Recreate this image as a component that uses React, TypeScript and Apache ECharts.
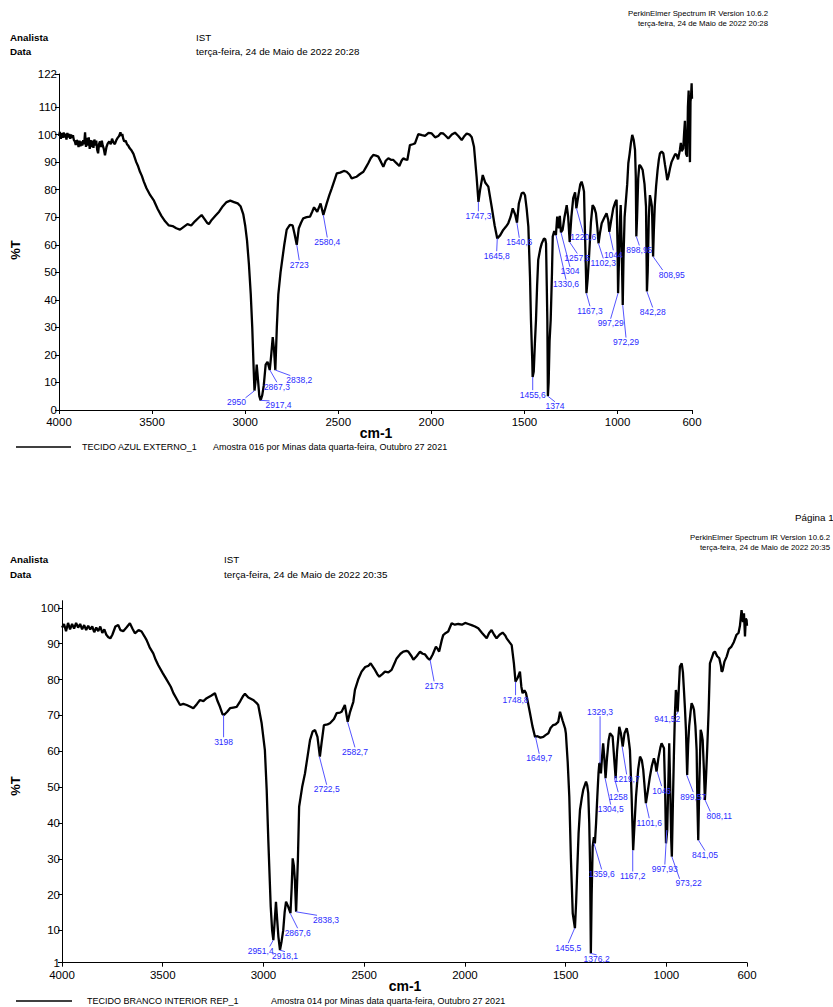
import React, { useEffect, useRef } from "react";
import * as echarts from "echarts";

const FONT = '"Liberation Sans", Arial, sans-serif';

const xTicks = [4000, 3500, 3000, 2500, 2000, 1500, 1000, 600];
const topYTicks = [0, 10, 20, 30, 40, 50, 60, 70, 80, 90, 100, 110, 122];
const bottomYTicks = [1, 10, 20, 30, 40, 50, 60, 70, 80, 90, 100, 102];

const topSpectrum: [number, number][] = [
  [4000, 99.5], [3995, 101], [3990, 98.5], [3985, 100.5], [3980, 98.8], [3975, 100.8], [3970, 99], [3965, 100.3],
  [3960, 98.2], [3955, 100.6], [3950, 99], [3945, 100.2], [3940, 98.5], [3935, 100], [3930, 98.8], [3925, 99.8],
  [3920, 98], [3915, 97.5], [3910, 96.2], [3905, 98], [3900, 97.5], [3895, 95.5], [3890, 97.8], [3885, 95.8],
  [3880, 97.5], [3875, 96], [3870, 98], [3865, 96.5], [3860, 100.8], [3855, 95.5], [3850, 98.8], [3845, 96],
  [3840, 99], [3835, 94.8], [3830, 98], [3825, 95.5], [3820, 97.8], [3815, 95.2], [3810, 98.2], [3805, 96],
  [3800, 97.8], [3795, 94.5], [3790, 93.2], [3785, 96.5], [3780, 97.5], [3775, 95.5], [3770, 97.8], [3765, 96],
  [3760, 95], [3753, 92.5], [3745, 95.5], [3738, 96.8], [3730, 97.5], [3722, 96.5], [3715, 98.5], [3708, 97.2],
  [3700, 96.5], [3692, 98], [3685, 98.8], [3677, 99.5], [3670, 100.8], [3665, 99.5], [3660, 100.2], [3655, 98.5],
  [3650, 97.5], [3642, 97.8], [3635, 96.5], [3628, 96], [3620, 95], [3610, 94.2], [3600, 93], [3585, 90],
  [3575, 88.5], [3565, 86.5], [3555, 85], [3545, 83], [3530, 80.5], [3510, 78], [3490, 76], [3470, 73],
  [3450, 70.5], [3430, 68.5], [3410, 67], [3390, 66.8], [3370, 66], [3350, 65.5], [3330, 66.5], [3310, 67.5],
  [3290, 67], [3270, 68.5], [3250, 69.8], [3234, 70.8], [3220, 69.5], [3205, 68], [3195, 67.5], [3180, 69],
  [3160, 70.5], [3140, 72], [3120, 74], [3100, 75.5], [3080, 76], [3060, 75.5], [3040, 75], [3025, 74],
  [3010, 71], [3000, 67], [2990, 61.5], [2980, 53], [2970, 42], [2962, 30], [2955, 16], [2950, 7],
  [2945, 10], [2938, 16.5], [2930, 10], [2924, 5], [2917, 3.5], [2908, 5.5], [2900, 9], [2890, 16.5],
  [2880, 17.5], [2868, 14.5], [2860, 20], [2852, 26.5], [2845, 22], [2838, 14.5], [2830, 30], [2822, 42],
  [2810, 50], [2800, 55], [2790, 60], [2777, 65.5], [2760, 67.2], [2745, 67], [2735, 64], [2723, 60],
  [2712, 66], [2700, 68], [2688, 69.6], [2670, 70], [2652, 70.2], [2640, 72], [2630, 73.6], [2613, 72],
  [2595, 75], [2580, 70.8], [2562, 75], [2548, 78], [2535, 80.5], [2520, 83.5], [2508, 85.9], [2490, 86.2],
  [2470, 86.8], [2455, 86.5], [2440, 85.5], [2428, 84.1], [2410, 84.5], [2401, 84.7], [2385, 85.6], [2365, 86.5],
  [2350, 88.3], [2339, 89.6], [2325, 91.5], [2312, 92.6], [2298, 92.4], [2285, 92], [2270, 90], [2258, 88.3],
  [2245, 90.5], [2231, 91.4], [2215, 90.8], [2204, 90.8], [2190, 89.8], [2172, 88.6], [2160, 90.5], [2151, 91.4],
  [2140, 91], [2129, 90.8], [2115, 96.2], [2100, 96.5], [2088, 96.8], [2070, 100.2], [2050, 99.8], [2034, 99.5],
  [2015, 100.6], [1998, 100.4], [1980, 99], [1963, 99.5], [1950, 100.5], [1936, 100.4], [1922, 99.5], [1909, 98.6],
  [1890, 100], [1873, 100.7], [1855, 99.5], [1837, 98], [1822, 99.5], [1810, 100.4], [1795, 100], [1783, 99],
  [1771, 95.6], [1757, 84.7], [1747, 75.6], [1738, 80], [1724, 85.3], [1710, 82.5], [1694, 81.1], [1676, 73.8],
  [1660, 67], [1646, 62.3], [1630, 63.5], [1614, 65.4], [1600, 66.5], [1587, 67.8], [1575, 70], [1563, 73.2],
  [1550, 71], [1540, 68], [1530, 75], [1515, 78.7], [1505, 79], [1497, 78], [1488, 73], [1479, 66.6],
  [1470, 48], [1465, 32.7], [1458, 18], [1456, 12], [1450, 14], [1444, 24], [1438, 32.7], [1432, 45],
  [1426, 54.5], [1415, 58.5], [1407, 60.5], [1395, 62.3], [1388, 62], [1384, 60.5], [1380, 45], [1377, 32.7],
  [1374, 5], [1370, 10], [1365, 25], [1359, 32.7], [1352, 50], [1348, 63], [1340, 65], [1331, 63.5],
  [1324, 70.2], [1315, 66], [1310, 70.5], [1304, 64.5], [1295, 65.4], [1285, 70], [1273, 74.4], [1265, 70],
  [1257, 61], [1248, 70], [1238, 76.9], [1228, 79], [1221, 73.2], [1210, 78], [1200, 82], [1193, 82.9],
  [1185, 81], [1180, 79.3], [1175, 65], [1167, 42.4], [1160, 48], [1152, 56.9], [1143, 68], [1134, 74.4],
  [1125, 73.5], [1116, 71.4], [1108, 66], [1102, 60.5], [1095, 64], [1085, 67.8], [1070, 70], [1059, 71.4],
  [1050, 69], [1044, 64.7], [1035, 68.5], [1023, 73.2], [1012, 75.5], [1005, 76.3], [1000, 60], [997, 42.4],
  [992, 55], [986, 70], [983, 74.4], [978, 60], [972, 38.1], [968, 55], [962, 70], [955, 76],
  [948, 82], [942, 89.6], [935, 93], [928, 97], [921, 99.9], [913, 98], [906, 94.4], [902, 85],
  [899, 63], [895, 70], [889, 84], [883, 89], [875, 88.5], [865, 87.1], [855, 82], [847, 73.8],
  [844, 55], [842, 43], [838, 50], [832, 70], [826, 78], [820, 76], [815, 73.8], [811, 62],
  [809, 55.7], [805, 65], [800, 74], [793, 81.1], [785, 87], [778, 91], [772, 93.2], [763, 93.8],
  [754, 93.2], [745, 89], [738, 86], [733, 83.5], [727, 84.7], [718, 87.8], [710, 90], [700, 91.5],
  [690, 93], [682, 92.6], [675, 91], [665, 94.4], [660, 97], [655, 94], [647, 95], [642, 101],
  [638, 105], [632, 93], [626, 92], [622, 110], [618, 116], [614, 105], [611, 90], [608, 112],
  [605, 114], [602, 118.6], [600, 113],
];

const bottomSpectrum: [number, number][] = [
  [4000, 94.5], [3990, 95.5], [3980, 93.5], [3970, 95.8], [3960, 94], [3950, 95.5], [3940, 94.2], [3930, 95.8],
  [3920, 94.5], [3910, 95.5], [3900, 94], [3890, 95.2], [3880, 93.8], [3870, 95], [3860, 94], [3850, 94.8],
  [3840, 93.2], [3830, 94.5], [3820, 93.5], [3810, 94.8], [3800, 93], [3790, 94], [3780, 92.5], [3770, 91.8],
  [3760, 91.5], [3750, 92.5], [3735, 94.8], [3721, 95.2], [3710, 93.8], [3696, 93.5], [3680, 94.5], [3663, 95.7],
  [3650, 94.2], [3638, 92.9], [3620, 93.8], [3605, 93.4], [3590, 92], [3580, 91], [3565, 89], [3547, 87.3],
  [3535, 85.5], [3522, 84], [3500, 81.8], [3480, 79.9], [3460, 78], [3447, 76.2], [3430, 74.5], [3414, 72.9],
  [3398, 73.2], [3381, 72.9], [3365, 72.5], [3348, 72], [3330, 73.2], [3315, 74.3], [3298, 74], [3282, 74.8],
  [3260, 75.5], [3241, 76.2], [3228, 74], [3216, 72.4], [3203, 70.3], [3196, 70.1], [3180, 71], [3166, 72],
  [3150, 72.2], [3133, 72.4], [3115, 74], [3100, 75.5], [3092, 76], [3075, 75], [3051, 74.3], [3035, 73.5],
  [3026, 72.9], [3009, 67.8], [2993, 60.3], [2984, 49.2], [2976, 35.2], [2964, 16.6], [2957, 10], [2951, 7.3],
  [2945, 12], [2938, 18], [2932, 13], [2926, 8.3], [2918, 4.5], [2910, 7], [2902, 10], [2895, 15],
  [2888, 18], [2877, 16.6], [2866, 14.8], [2860, 22], [2855, 30.1], [2849, 28], [2844, 24], [2838, 15.2],
  [2829, 30], [2823, 44.5], [2808, 50], [2794, 53.8], [2780, 59], [2769, 63.1], [2756, 65.5], [2744, 65.9],
  [2732, 64], [2720, 58.5], [2710, 63], [2700, 67.3], [2682, 67.5], [2670, 67.8], [2650, 69], [2637, 70.6],
  [2620, 70.8], [2612, 71], [2596, 72.9], [2582, 68.2], [2570, 71], [2554, 73.8], [2546, 77.1], [2530, 80],
  [2513, 82.2], [2495, 83.5], [2480, 83.8], [2468, 84.5], [2450, 83], [2435, 81.5], [2425, 80.8], [2410, 81.5],
  [2397, 82.2], [2380, 82], [2364, 82.7], [2350, 84.5], [2339, 85.9], [2320, 87.2], [2306, 87.8], [2290, 88],
  [2281, 87.8], [2265, 86.5], [2256, 85.5], [2240, 86.5], [2223, 87.8], [2210, 87.2], [2198, 87], [2185, 86],
  [2174, 85.5], [2160, 87], [2144, 89.2], [2135, 88.5], [2128, 87.8], [2115, 91], [2108, 92.4], [2095, 93],
  [2083, 93.4], [2066, 95.7], [2050, 95.3], [2033, 95.5], [2015, 95.3], [1999, 95.8], [1983, 95.5], [1967, 95.2],
  [1950, 94.8], [1934, 94.3], [1915, 93], [1892, 91.5], [1880, 93], [1868, 93.8], [1855, 92.5], [1843, 91.5],
  [1828, 92.5], [1813, 93.1], [1800, 92.3], [1793, 91.5], [1780, 90.5], [1768, 89.6], [1757, 84.5], [1749, 79.4],
  [1738, 80.5], [1727, 82.2], [1720, 78], [1714, 76.2], [1705, 77], [1697, 76.2], [1687, 73.5], [1677, 70.6],
  [1665, 67], [1652, 64], [1640, 64.2], [1625, 63.8], [1611, 64], [1600, 64.5], [1586, 65], [1575, 66.5],
  [1562, 67.3], [1550, 67.5], [1537, 68.2], [1528, 71], [1515, 68.5], [1503, 66.4], [1499, 65], [1490, 57],
  [1482, 47.3], [1474, 30], [1465, 14.8], [1454, 10.6], [1448, 18], [1442, 27.8], [1436, 37], [1429, 43.6],
  [1420, 47], [1413, 49.2], [1399, 51.5], [1393, 50.5], [1388, 48.3], [1383, 40], [1379, 28.7], [1375, 3.6],
  [1371, 20], [1366, 33.4], [1360, 36], [1355, 34.3], [1349, 40], [1343, 47.3], [1337, 54], [1333, 56.6],
  [1329, 56.5], [1325, 53.8], [1320, 58], [1314, 62.2], [1308, 58], [1302, 52.5], [1295, 58], [1287, 63],
  [1280, 65], [1267, 64.1], [1258, 57], [1252, 52.5], [1245, 60], [1234, 66.8], [1226, 65], [1217, 61.3],
  [1208, 65], [1197, 66.4], [1190, 64.5], [1181, 60.3], [1173, 48], [1165, 32.4], [1158, 40], [1151, 47.3],
  [1140, 55], [1131, 58.5], [1122, 57.5], [1115, 54.8], [1108, 50], [1102, 45.5], [1092, 49], [1082, 52.9],
  [1072, 56], [1062, 58], [1055, 56.5], [1049, 54.3], [1040, 58], [1030, 61], [1024, 62.2], [1018, 61.5],
  [1012, 60.8], [1006, 48], [1002, 34.3], [996, 38], [991, 50], [986, 62.2], [980, 47], [976, 35],
  [973, 30.6], [968, 45], [963, 58.5], [958, 70], [953, 77.1], [948, 75], [944, 71], [938, 78],
  [933, 83.6], [924, 84.5], [918, 82], [913, 77.1], [908, 72], [903, 65.9], [897, 53.4], [892, 62],
  [887, 67], [880, 71], [875, 73.4], [868, 72.5], [863, 71.5], [856, 67], [850, 60.3], [846, 45],
  [842, 35.2], [837, 50], [830, 66], [825, 65], [820, 63.1], [814, 55], [809, 46.4], [804, 52],
  [797, 61.3], [790, 72], [784, 84.5], [775, 86], [766, 87.5], [759, 87.8], [748, 86.5], [738, 86],
  [730, 84], [726, 82.2], [721, 82.5], [712, 85], [701, 86.4], [690, 88.5], [677, 89.2], [665, 90.5],
  [652, 92.5], [642, 93], [635, 95], [627, 99.4], [620, 96], [615, 98.5], [610, 92], [606, 97],
  [602, 96.6], [600, 95],
];

const topPeaks: [number, number, string][] = [
  [2950, 7, "2950"], [2917.4, 3.5, "2917,4"], [2867.3, 14.5, "2867,3"], [2838.2, 14.5, "2838,2"],
  [2723, 60, "2723"], [2580.4, 70.8, "2580,4"], [1747.3, 75.6, "1747,3"], [1645.8, 62.3, "1645,8"],
  [1540.6, 68, "1540,6"], [1455.6, 12, "1455,6"], [1374, 5, "1374"], [1330.6, 63.5, "1330,6"],
  [1304, 64.5, "1304"], [1257.5, 61, "1257,5"], [1220.6, 73.2, "1220,6"], [1167.3, 42.4, "1167,3"],
  [1102.3, 60.5, "1102,3"], [1044, 64.7, "1044"], [997.29, 42.4, "997,29"], [972.29, 38.1, "972,29"],
  [898.95, 63, "898,95"], [842.28, 43, "842,28"], [808.95, 55.7, "808,95"],
];
const topLabelOffsets: [number, number][] = [
  [-18, 11.6], [18, 5], [7, 16.7], [24, 10], [2.5, 20], [4, 27], [0, 14], [-0.6, 17.3],
  [2.4, 19.6], [0, 17.7], [7, 10], [10, 49], [9, 39], [7.7, 16], [6.8, 29], [3.6, 17.5],
  [4.8, 19.5], [4, 23], [-7.4, 30], [3.3, 37], [3, 13.5], [5.8, 20.4], [18.6, 18],
];

const bottomPeaks: [number, number, string][] = [
  [3198, 70.1, "3198"], [2951.4, 7.3, "2951,4"], [2918.1, 4.5, "2918,1"], [2867.6, 14.8, "2867,6"],
  [2838.3, 15.2, "2838,3"], [2722.5, 58.5, "2722,5"], [2582.7, 68.2, "2582,7"], [2173, 85.5, "2173"],
  [1748.8, 79.4, "1748,8"], [1649.7, 64, "1649,7"], [1455.5, 10.6, "1455,5"], [1376.2, 3.6, "1376,2"],
  [1359.6, 34.3, "1359,6"], [1329.3, 56.6, "1329,3"], [1304.5, 52.5, "1304,5"], [1258, 52.5, "1258"],
  [1219.7, 61.3, "1219,7"], [1167.2, 32.4, "1167,2"], [1101.6, 45.5, "1101,6"], [1046, 54.3, "1046"],
  [997.93, 38, "997,93"], [973.22, 30.6, "973,22"], [941.52, 71, "941,52"], [899.57, 53.4, "899,57"],
  [841.05, 35.2, "841,05"], [808.11, 46.4, "808,11"],
];
const bottomLabelOffsets: [number, number][] = [
  [0, 26.7], [-12.6, 11], [5, 6], [7.5, 19.5], [30, 8], [7.3, 32.7], [7.4, 30], [4, 26],
  [0, 18], [3.7, 21.4], [-6.4, 19.4], [6, 6], [7.7, 30.6], [0, -51.7], [5.6, 31], [3.8, 18.6],
  [4.5, 32.4], [0, 25.8], [3.3, 19.5], [4.5, 19], [-2, 39], [16.8, 26.7], [-11, 7.5], [6.6, 21.7],
  [6.5, 15], [14.2, 16],
];

function peakRenderer(peaks: [number, number, string][], offsets: [number, number][]) {
  return (params: any, api: any) => {
    const i = params.dataIndex;
    const p = api.coord([api.value(0), api.value(1)]);
    const [dx, dy] = offsets[i];
    const lx = p[0] + dx;
    const ly = p[1] + dy;
    const ex = Math.abs(dx) > 10 ? lx - Math.sign(dx) * 9 : lx;
    const ey = dy >= 0 ? ly - 4.5 : ly + 4.5;
    return {
      type: "group",
      children: [
        { type: "line", shape: { x1: p[0], y1: p[1], x2: ex, y2: ey }, style: { stroke: "#5555ff", lineWidth: 1 } },
        {
          type: "text",
          x: lx,
          y: ly,
          style: { text: peaks[i][2], font: `8.5px ${FONT}`, fill: "#2a2aff", textAlign: "center", textVerticalAlign: "middle" },
        },
      ],
    };
  };
}

function txt(x: number, y: number, text: string, size: number, opts: any = {}) {
  return {
    type: "text",
    x,
    y,
    rotation: opts.rotation || 0,
    style: {
      text,
      font: `${opts.bold ? "bold " : ""}${size}px ${FONT}`,
      fill: "#000",
      textAlign: opts.align || "left",
      textVerticalAlign: "middle",
    },
  };
}

const plain = (v: number) => String(v);

function xAxisCfg(gridIndex: number) {
  return {
    gridIndex,
    type: "value",
    min: 600,
    max: 4000,
    inverse: true,
    axisLine: { show: true, lineStyle: { color: "#000", width: 1 } },
    axisTick: { show: true, length: 4, customValues: xTicks, lineStyle: { color: "#000" } },
    axisLabel: { customValues: xTicks, formatter: plain, color: "#000", fontSize: 11.5, lineHeight: 12, fontFamily: FONT, margin: 6 },
    splitLine: { show: false },
  };
}

function yAxisCfg(gridIndex: number, min: number, max: number, ticks: number[]) {
  return {
    gridIndex,
    type: "value",
    min,
    max,
    axisLine: { show: true, lineStyle: { color: "#000", width: 1 } },
    axisTick: { show: true, length: 4, customValues: ticks, lineStyle: { color: "#000" } },
    axisLabel: { customValues: ticks, formatter: plain, color: "#000", fontSize: 11.5, lineHeight: 11, fontFamily: FONT, margin: 2 },
    splitLine: { show: false },
  };
}

export default function App() {
  const ref = useRef<HTMLDivElement>(null);
  useEffect(() => {
    if (!ref.current) return;
    const chart = echarts.init(ref.current, undefined, { renderer: "svg" });
    chart.setOption({
      animation: false,
      backgroundColor: "#fff",
      grid: [
        { left: 59, top: 74, width: 633, height: 336 },
        { left: 62, top: 600.7, width: 685, height: 362 },
      ],
      xAxis: [xAxisCfg(0), xAxisCfg(1)],
      yAxis: [yAxisCfg(0, 0, 122, topYTicks), yAxisCfg(1, 1, 102, bottomYTicks)],
      series: [
        {
          type: "line",
          xAxisIndex: 0,
          yAxisIndex: 0,
          data: topSpectrum,
          showSymbol: false,
          lineStyle: { color: "#000", width: 2.3 },
          z: 2,
        },
        {
          type: "line",
          xAxisIndex: 1,
          yAxisIndex: 1,
          data: bottomSpectrum,
          showSymbol: false,
          lineStyle: { color: "#000", width: 2.3 },
          z: 2,
        },
        {
          type: "custom",
          xAxisIndex: 0,
          yAxisIndex: 0,
          clip: false,
          data: topPeaks.map((p) => [p[0], p[1]]),
          encode: { x: 0, y: 1 },
          renderItem: peakRenderer(topPeaks, topLabelOffsets),
          z: 3,
        },
        {
          type: "custom",
          xAxisIndex: 1,
          yAxisIndex: 1,
          clip: false,
          data: bottomPeaks.map((p) => [p[0], p[1]]),
          encode: { x: 0, y: 1 },
          renderItem: peakRenderer(bottomPeaks, bottomLabelOffsets),
          z: 3,
        },
      ],
      graphic: [
        txt(768, 13, "PerkinElmer Spectrum IR Version 10.6.2", 7.8, { align: "right" }),
        txt(768, 23, "terça-feira, 24 de Maio de 2022 20:28", 7.8, { align: "right" }),
        txt(10, 37, "Analista", 9.8, { bold: true }),
        txt(196, 37, "IST", 9.8),
        txt(10, 51, "Data", 9.8, { bold: true }),
        txt(196, 51, "terça-feira, 24 de Maio de 2022 20:28", 9.8),
        txt(15, 250, "%T", 13, { bold: true, align: "center", rotation: Math.PI / 2 }),
        txt(376, 433, "cm-1", 14, { bold: true, align: "center" }),
        { type: "line", shape: { x1: 16, y1: 447, x2: 71, y2: 447 }, style: { stroke: "#000", lineWidth: 1.5 } },
        txt(82, 447, "TECIDO AZUL EXTERNO_1", 9),
        txt(213, 447, "Amostra 016 por Minas data quarta-feira, Outubro 27 2021", 9),

        txt(795, 517, "Página 1", 9.8),
        txt(830, 537, "PerkinElmer Spectrum IR Version 10.6.2", 7.8, { align: "right" }),
        txt(830, 547, "terça-feira, 24 de Maio de 2022 20:35", 7.8, { align: "right" }),
        txt(10, 559, "Analista", 9.8, { bold: true }),
        txt(224, 559, "IST", 9.8),
        txt(10, 574, "Data", 9.8, { bold: true }),
        txt(224, 574, "terça-feira, 24 de Maio de 2022 20:35", 9.8),
        txt(15, 786, "%T", 13, { bold: true, align: "center", rotation: Math.PI / 2 }),
        txt(405, 986, "cm-1", 14, { bold: true, align: "center" }),
        { type: "line", shape: { x1: 16, y1: 1001, x2: 72, y2: 1001 }, style: { stroke: "#000", lineWidth: 1.5 } },
        txt(87, 1001, "TECIDO BRANCO INTERIOR REP_1", 9),
        txt(271, 1001, "Amostra 014 por Minas data quarta-feira, Outubro 27 2021", 9),
      ],
    });
    return () => chart.dispose();
  }, []);
  return (
    <div
      ref={ref}
      style={{ position: "absolute", left: 0, top: 0, width: 833, height: 1007, background: "#fff" }}
    />
  );
}
